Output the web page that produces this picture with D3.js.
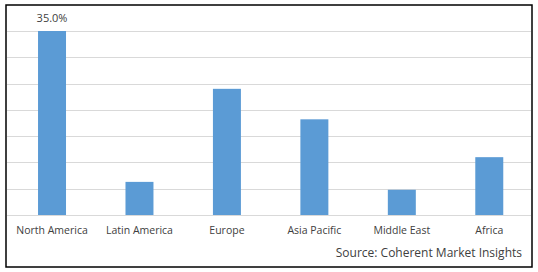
<!DOCTYPE html>
<html lang="en">
<head>
	<meta charset="utf-8">
	<title>Regional share</title>
	<script src="https://d3js.org/d3.v7.min.js"></script>
	<style type="text/css">
		body { margin: 0; background: #fff; }
		text { font-family: "Open Sans", sans-serif; fill: #404040; }
	</style>
</head>
<body>
	<script type="text/javascript">

		// data
		let regions = ["North America", "Latin America", "Europe", "Asia Pacific", "Middle East", "Africa"];
		let shares = [35.0, 6.3, 24.0, 18.2, 4.8, 11.0];
		let gridTicks = [0, 5, 10, 15, 20, 25, 30, 35];
		let topLabel = "35.0%";
		let source = "Source: Coherent Market Insights";

		let w = 538;
		let h = 272;

		let svg = d3.select("body")
			.append("svg")
			.attr("width", w)
			.attr("height", h);

		// outer frame
		svg.append("rect")
			.attr("x", 6)
			.attr("y", 5)
			.attr("width", 526)
			.attr("height", 262)
			.attr("fill", "none")
			.attr("stroke", "#000")
			.attr("stroke-width", 1.5);

		let xScale = d3.scaleBand()
			.domain(regions)
			.range([8.3, 533])
			.paddingInner(0.68)
			.paddingOuter(0.34);

		let yScale = d3.scaleLinear()
			.domain([0, 35])
			.range([215, 31]);

		// gridlines
		svg.selectAll("line.grid")
			.data(gridTicks)
			.enter()
			.append("line")
			.attr("class", "grid")
			.attr("x1", 7)
			.attr("x2", 531)
			.attr("y1", function (d) { return Math.round(yScale(d)) + 0.5; })
			.attr("y2", function (d) { return Math.round(yScale(d)) + 0.5; })
			.attr("stroke", "#d9d9d9")
			.attr("stroke-width", 1);

		// bars
		svg.selectAll("rect.bar")
			.data(shares)
			.enter()
			.append("rect")
			.attr("class", "bar")
			.attr("x", function (d, i) { return xScale(regions[i]); })
			.attr("y", function (d) { return yScale(d); })
			.attr("width", xScale.bandwidth())
			.attr("height", function (d) { return yScale(0) - yScale(d); })
			.attr("fill", "#5b9bd5");

		// value label on the tallest bar only
		svg.append("text")
			.attr("x", xScale(regions[0]) + xScale.bandwidth() / 2)
			.attr("y", yScale(shares[0]) - 9)
			.attr("text-anchor", "middle")
			.attr("font-size", "11px")
			.text(topLabel);

		// category labels
		let xAxis = d3.axisBottom(xScale).tickSize(0).tickPadding(0);
		let gx = svg.append("g")
			.attr("transform", "translate(0,227)")
			.call(xAxis);
		gx.select(".domain").remove();
		gx.selectAll("text")
			.attr("font-family", "Open Sans, sans-serif")
			.attr("font-size", "10.5px")
			.attr("fill", "#404040")
			.attr("dy", "0.71em");

		// source note
		svg.append("text")
			.attr("x", 522)
			.attr("y", 257)
			.attr("text-anchor", "end")
			.attr("font-size", "12px")
			.text(source);

	</script>
</body>
</html>
